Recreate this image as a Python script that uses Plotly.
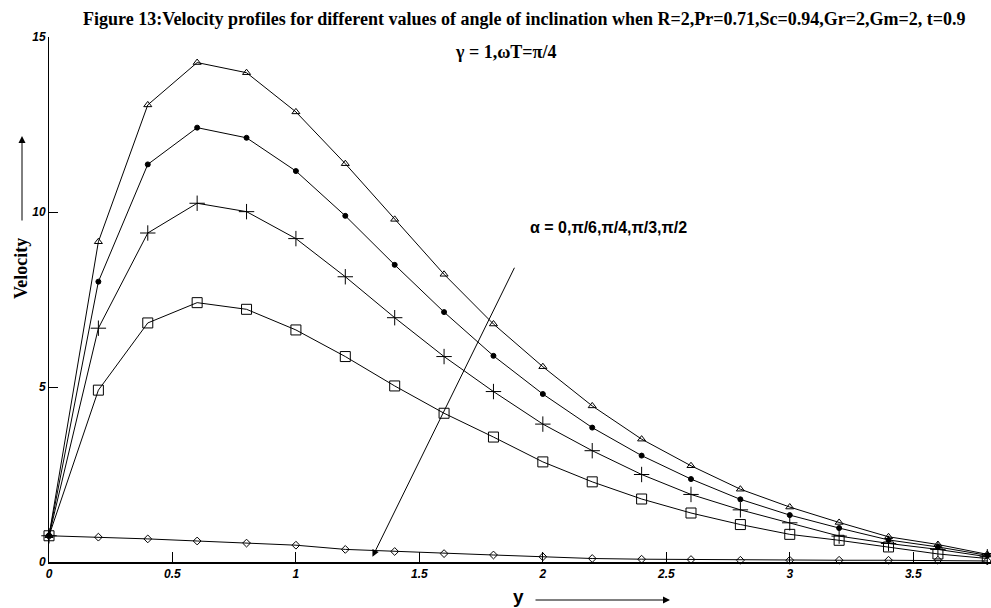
import plotly.graph_objects as go

y_pos = [0.0, 0.2, 0.4, 0.6, 0.8, 1.0, 1.2, 1.4, 1.6, 1.8, 2.0,
         2.2, 2.4, 2.6, 2.8, 3.0, 3.2, 3.4, 3.6, 3.8]

u_alpha_0 = [0.75, 9.15, 13.06, 14.27, 13.98, 12.86, 11.38, 9.79, 8.22, 6.80, 5.58,
             4.46, 3.51, 2.75, 2.08, 1.57, 1.13, 0.72, 0.50, 0.22]
u_alpha_pi6 = [0.75, 8.01, 11.36, 12.41, 12.12, 11.17, 9.89, 8.49, 7.14, 5.89, 4.80,
               3.84, 3.04, 2.37, 1.79, 1.34, 0.97, 0.63, 0.43, 0.19]
u_alpha_pi4 = [0.75, 6.68, 9.40, 10.25, 10.01, 9.24, 8.15, 6.98, 5.87, 4.87, 3.94,
               3.18, 2.50, 1.93, 1.49, 1.12, 0.74, 0.53, 0.36, 0.15]
u_alpha_pi3 = [0.75, 4.91, 6.83, 7.41, 7.22, 6.63, 5.87, 5.03, 4.25, 3.57, 2.86,
               2.29, 1.80, 1.40, 1.07, 0.79, 0.62, 0.43, 0.23, 0.10]
u_alpha_pi2 = [0.75, 0.71, 0.66, 0.60, 0.54, 0.48, 0.36, 0.30, 0.24, 0.20, 0.15,
               0.10, 0.08, 0.07, 0.05, 0.05, 0.05, 0.05, 0.05, 0.03]

series = [
    ("α=0", u_alpha_0, "triangle-up-open", 7),
    ("α=π/6", u_alpha_pi6, "circle", 5),
    ("α=π/4", u_alpha_pi4, "cross-thin-open", 11),
    ("α=π/3", u_alpha_pi3, "square-open", 10),
    ("α=π/2", u_alpha_pi2, "diamond-open", 6),
]

fig = go.Figure()
for name, vals, sym, sz in series:
    fig.add_trace(go.Scatter(
        x=y_pos, y=vals, mode="lines+markers", name=name,
        line=dict(color="black", width=1),
        marker=dict(symbol=sym, size=sz, color="black",
                    line=dict(color="black", width=1)),
        cliponaxis=False,
    ))

tickfont = dict(family="Liberation Sans", size=12, color="black",
                weight="bold", style="italic")

fig.update_layout(
    width=991, height=608,
    margin=dict(l=49, r=0, t=37, b=46),
    paper_bgcolor="white", plot_bgcolor="white",
    showlegend=False,
    xaxis=dict(range=[0, 3.815], tickvals=[0, 0.5, 1, 1.5, 2, 2.5, 3, 3.5],
               ticktext=["0", "0.5", "1", "1.5", "2", "2.5", "3", "3.5"],
               ticks="inside", ticklen=10, tickwidth=1, tickcolor="black",
               showline=True, linewidth=2, linecolor="black",
               showgrid=False, zeroline=False, tickfont=tickfont),
    yaxis=dict(range=[0, 15], tickvals=[0, 5, 10, 15],
               ticks="inside", ticklen=9, tickwidth=1, tickcolor="black",
               showline=True, linewidth=1, linecolor="black",
               showgrid=False, zeroline=False, tickfont=tickfont),
)

title_font = dict(family="Liberation Serif", size=18, color="black", weight="bold")
label_font = dict(family="Liberation Serif", size=18, color="black", weight="bold")
sans_bold = dict(family="Liberation Sans", size=16, color="black", weight="bold")
y_font = dict(family="Liberation Sans", size=19, color="black", weight="bold")

def px(xp):
    return (xp - 49) / 942.0

def py(yp):
    return (562 - yp) / 525.0

fig.add_annotation(
    text="Figure 13:Velocity profiles for different values of angle of inclination when R=2,Pr=0.71,Sc=0.94,Gr=2,Gm=2, t=0.9",
    xref="paper", yref="paper", x=px(524), y=py(19), showarrow=False,
    font=title_font, xanchor="center", yanchor="middle")
fig.add_annotation(
    text="γ = 1,ωT=π/4", xref="paper", yref="paper", x=px(505), y=py(52),
    showarrow=False, font=title_font, xanchor="center", yanchor="middle")
fig.add_annotation(
    text="α = 0,π/6,π/4,π/3,π/2", xref="paper", yref="paper", x=px(608), y=py(227),
    showarrow=False, font=sans_bold, xanchor="center", yanchor="middle")

# alpha arrow
fig.add_annotation(
    x=1.31, y=0.15, ax=1.888, ay=8.45, xref="x", yref="y", axref="x", ayref="y",
    text="", showarrow=True, arrowhead=2, arrowsize=1.4, arrowwidth=1,
    arrowcolor="black")

# y-axis label and arrow
fig.add_annotation(
    text="Velocity", xref="paper", yref="paper", x=px(21), y=py(269),
    showarrow=False, textangle=-90, font=label_font,
    xanchor="center", yanchor="middle")
fig.add_annotation(
    xref="paper", yref="paper", x=px(22), y=py(136), ax=0, ay=86,
    text="", showarrow=True, arrowhead=2, arrowsize=1.4, arrowwidth=1,
    arrowcolor="black")

# x-axis label and arrow
fig.add_annotation(
    text="y", xref="paper", yref="paper", x=px(518), y=py(596),
    showarrow=False, font=y_font, xanchor="center", yanchor="middle")
fig.add_annotation(
    xref="paper", yref="paper", x=px(670), y=py(600), ax=-136, ay=0,
    text="", showarrow=True, arrowhead=2, arrowsize=1.4, arrowwidth=1,
    arrowcolor="black")

fig.write_html("out.html")
